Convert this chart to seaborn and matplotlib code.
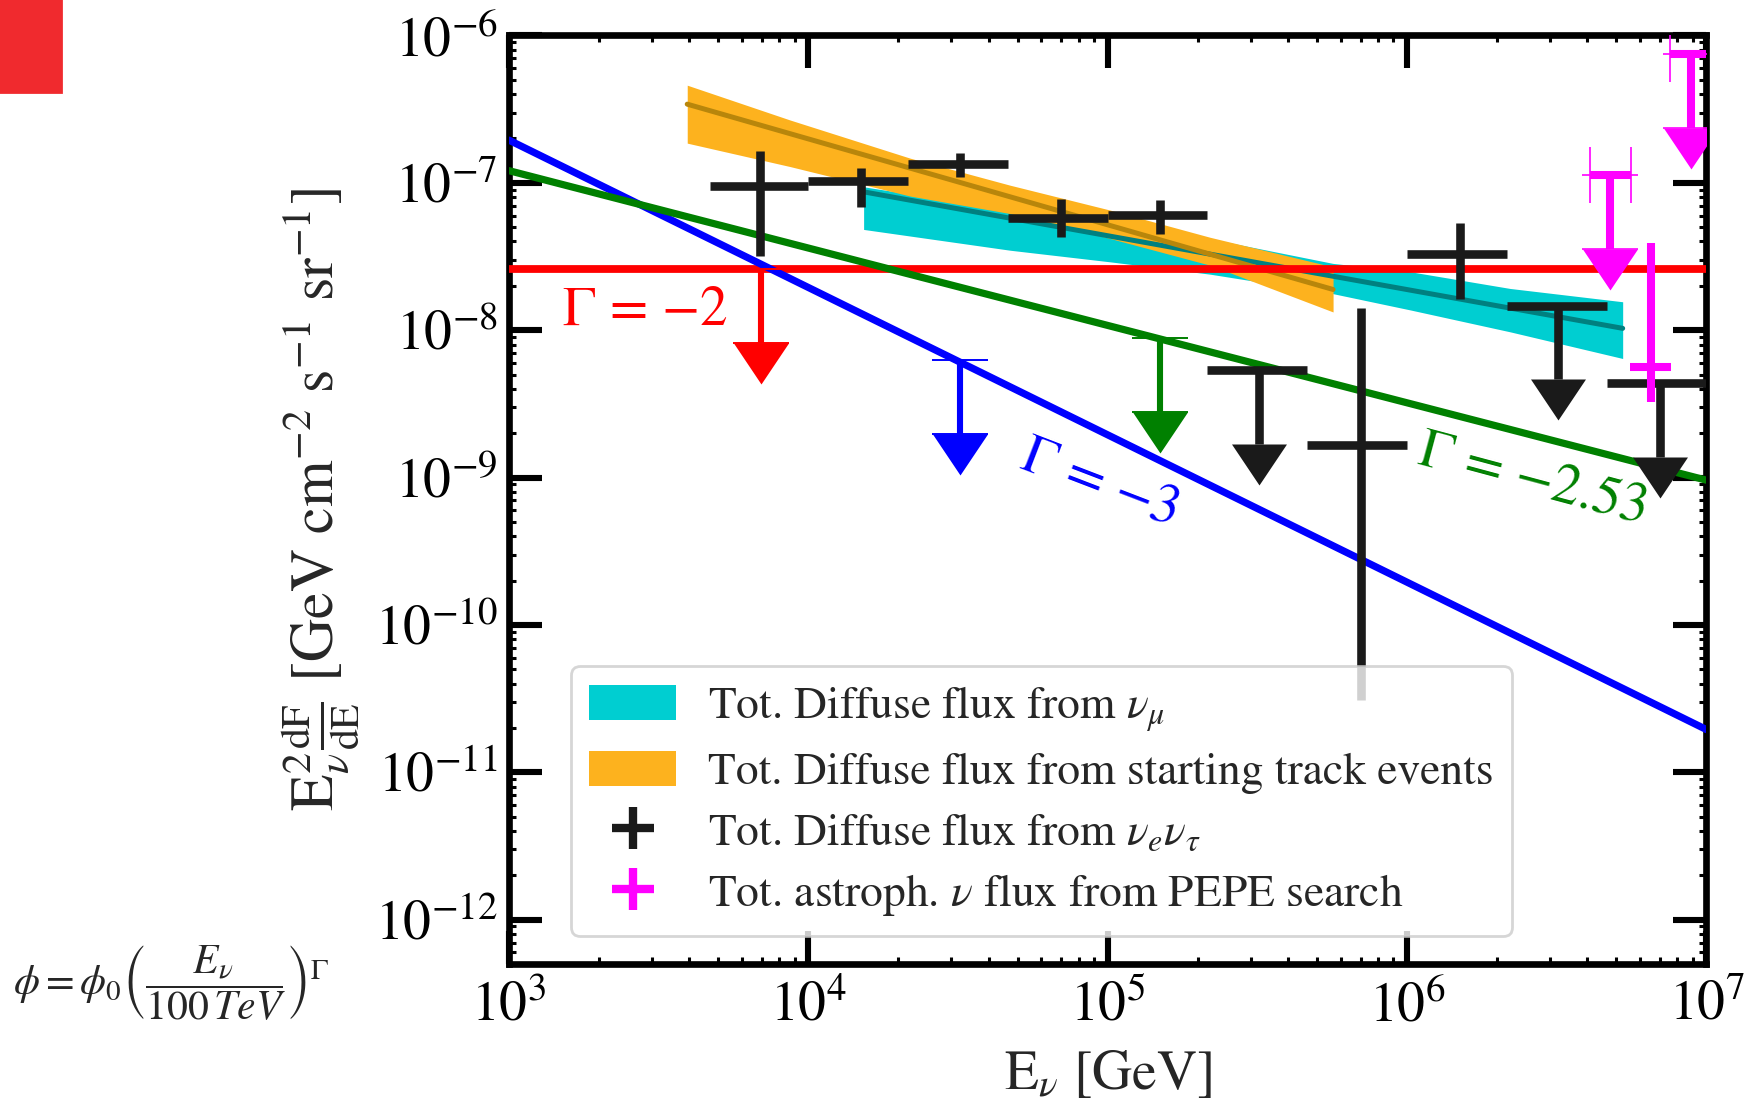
import numpy as np
import matplotlib
matplotlib.use("Agg")
import matplotlib.pyplot as plt
import seaborn as sns
from matplotlib.path import Path
from matplotlib.patches import Patch, Rectangle
from matplotlib.lines import Line2D
from matplotlib.ticker import LogLocator, NullFormatter

nan = np.nan
# ---------------- data ----------------
# power-law guide lines: E^2 dF/dE at E = 1e3 and 1e7 GeV
line_E = [1e3, 1e7]
line_g2 = [2.60e-8, 2.60e-8]      # Gamma = -2
line_g3 = [1.95e-7, 1.95e-11]     # Gamma = -3
line_g253 = [1.21e-7, 9.6e-10]    # Gamma = -2.53
line_labels = [r"$\Gamma\,=\,{-}2$", r"$\mathit{\Gamma}\,=\,{-}3$", r"$\mathit{\Gamma}\,=\,{-}2.53$"]

# upper limits sitting on the guide lines (red, blue, green)
guide_ul_E = [6.95e3, 3.22e4, 1.50e5]
guide_ul_F = [2.60e-8, 6.25e-9, 8.8e-9]

# total diffuse flux from nu_mu : band + best fit
numu_E = [1.53e4, 4.72e4, 1.02e5, 2.20e5, 5.66e5, 1.03e6, 2.21e6, 5.25e6]
numu_hi = [9.40e-8, 6.61e-8, 5.25e-8, 4.17e-8, 2.84e-8, 2.49e-8, 1.92e-8, 1.56e-8]
numu_lo = [4.83e-8, 3.49e-8, 2.91e-8, 2.40e-8, 1.77e-8, 1.37e-8, 9.75e-9, 6.43e-9]
numu_fit_E = [1.53e4, 5.25e6]
numu_fit_F = [8.69e-8, 1.03e-8]

# total diffuse flux from starting track events : band + best fit
estes_E = [3.94e3, 8.69e3, 2.19e4, 4.72e4, 1.02e5, 2.20e5, 5.66e5]
estes_hi = [4.60e-7, 2.67e-7, 1.47e-7, 9.64e-8, 6.53e-8, 4.27e-8, 2.69e-8]
estes_lo = [1.86e-7, 1.29e-7, 8.13e-8, 6.19e-8, 4.19e-8, 2.76e-8, 1.33e-8]
estes_fit_E = [3.94e3, 5.66e5]
estes_fit_F = [3.42e-7, 1.89e-8]

# nu_e nu_tau binned flux
casc_E = [6.9e3, 1.5e4, 3.2e4, 7.0e4, 1.5e5, 3.2e5, 7.0e5, 1.5e6, 3.2e6, 7.0e6]
casc_Elo = [4.7e3, 1.0e4, 2.15e4, 4.64e4, 1.0e5, 2.15e5, 4.64e5, 1.0e6, 2.15e6, 4.64e6]
casc_Ehi = [1.0e4, 2.15e4, 4.64e4, 1.0e5, 2.15e5, 4.64e5, 1.0e6, 2.15e6, 4.64e6, 1.0e7]
casc_F = [9.55e-8, 1.03e-7, 1.34e-7, 5.78e-8, 6.04e-8, 5.35e-9, 1.66e-9, 3.28e-8, 1.47e-8, 4.38e-9]
casc_Fhi = [1.64e-7, 1.27e-7, 1.60e-7, 7.71e-8, 7.64e-8, nan, 1.42e-8, 5.38e-8, nan, nan]
casc_Flo = [3.19e-8, 6.87e-8, 1.10e-7, 4.30e-8, 4.53e-8, nan, 3.08e-11, 1.64e-8, nan, nan]
casc_ul = [False, False, False, False, False, True, False, False, True, True]

# PEPE search
pepe_E = [4.78e6, 6.53e6, 8.85e6]
pepe_Elo = [4.09e6, 5.57e6, 7.58e6]
pepe_Ehi = [5.60e6, 7.62e6, 1.03e7]
pepe_F = [1.13e-7, 5.64e-9, 7.48e-7]
pepe_Fhi = [nan, 3.92e-8, nan]
pepe_Flo = [nan, 3.26e-9, nan]
pepe_ul = [True, False, True]

legend_labels = [r"Tot. Diffuse flux from $\nu_\mu$",
                 "Tot. Diffuse flux from starting track events",
                 r"Tot. Diffuse flux from $\nu_e\nu_\tau$",
                 r"Tot. astroph. $\nu$ flux from PEPE search"]

# ---------------- style ----------------
sns.set_theme(style="ticks")
plt.rcParams.update({
    "font.family": ["STIXGeneral", "DejaVu Serif"],
    "mathtext.fontset": "stix",
    "axes.edgecolor": "black",
    "axes.linewidth": 2.4,
    "xtick.color": "black", "ytick.color": "black",
    "xtick.direction": "in", "ytick.direction": "in",
    "xtick.top": True, "ytick.right": True,
    "xtick.major.size": 12, "ytick.major.size": 12,
    "xtick.major.width": 2.2, "ytick.major.width": 2.2,
    "xtick.minor.size": 2.6, "ytick.minor.size": 2.6,
    "xtick.minor.width": 1.1, "ytick.minor.width": 1.1,
    "xtick.labelsize": 20, "ytick.labelsize": 20,
    "xtick.major.pad": 6, "ytick.major.pad": 4,
})

C_CYAN, C_TEAL = "#00CED1", "#008080"
C_ORANGE, C_BROWN = "#FDB21E", "#B8860B"
guide_colors = ["#FF0000", "#0000FF", "#008000"]
C_PEPE = "#FF00FF"
ARROW_DEC = 0.5           # arrow shaft length in decades
TRI = Path([(-27.5, 0), (27.5, 0), (0, -41), (-27.5, 0)],
           [Path.MOVETO, Path.LINETO, Path.LINETO, Path.CLOSEPOLY])
TRI_MS = 29.5

fig = plt.figure(figsize=(8.76, 5.545), dpi=200)
ax = fig.add_axes([0.2905, 0.1307, 0.6835, 0.8373])
ax.set_xscale("log")
ax.set_yscale("log")

# bands
ax.fill_between(numu_E, numu_lo, numu_hi, color=C_CYAN, lw=0, zorder=1)
ax.fill_between(estes_E, estes_lo, estes_hi, color=C_ORANGE, lw=0, zorder=1.1)
sns.lineplot(x=numu_fit_E, y=numu_fit_F, color=C_TEAL, lw=1.8, ax=ax, zorder=2)
sns.lineplot(x=estes_fit_E, y=estes_fit_F, color=C_BROWN, lw=1.8, ax=ax, zorder=2)

# guide lines
for ys, c, lw in zip([line_g2, line_g3, line_g253], guide_colors, [2.8, 2.6, 2.6]):
    sns.lineplot(x=line_E, y=ys, color=c, lw=lw, ax=ax, zorder=3)

def draw_arrow_heads(E, F, color, z):
    F = np.asarray(F, float)
    ax.plot(E, F * 10 ** (-ARROW_DEC), ls="none", marker=TRI, ms=TRI_MS,
            mew=0, color=color, zorder=z)

# guide-line upper limits
for E, F, c in zip(guide_ul_E, guide_ul_F, guide_colors):
    end = F * 10 ** (-ARROW_DEC)
    ax.errorbar([E], [F], yerr=[[F - end], [0]], fmt="none", ecolor=c,
                elinewidth=2.2, capsize=10, capthick=0.7, zorder=4)
    draw_arrow_heads([E], [F], c, 4)

# nu_e nu_tau
cE, cF = np.array(casc_E), np.array(casc_F)
cElo, cEhi = np.array(casc_Elo), np.array(casc_Ehi)
cFlo, cFhi = np.array(casc_Flo), np.array(casc_Fhi)
ul = np.array(casc_ul)
m = ~ul
ax.errorbar(cE[m], cF[m], xerr=[cE[m] - cElo[m], cEhi[m] - cE[m]],
            yerr=[cF[m] - cFlo[m], cFhi[m] - cF[m]], fmt="none", ecolor="k",
            elinewidth=3.1, capsize=0, zorder=5)
ax.errorbar(cE[ul], cF[ul], xerr=[cE[ul] - cElo[ul], cEhi[ul] - cE[ul]],
            yerr=[cF[ul] * (1 - 10 ** (-ARROW_DEC)), np.zeros(ul.sum())],
            fmt="none", ecolor="k", elinewidth=3.1, capsize=0, zorder=5)
draw_arrow_heads(cE[ul], cF[ul], "k", 5)

# PEPE
pE, pF = np.array(pepe_E), np.array(pepe_F)
pElo, pEhi = np.array(pepe_Elo), np.array(pepe_Ehi)
pFlo, pFhi = np.array(pepe_Flo), np.array(pepe_Fhi)
pul = np.array(pepe_ul)
pm = ~pul
ax.errorbar(pE[pm], pF[pm], xerr=[pE[pm] - pElo[pm], pEhi[pm] - pE[pm]],
            yerr=[pF[pm] - pFlo[pm], pFhi[pm] - pF[pm]], fmt="none",
            ecolor=C_PEPE, elinewidth=2.9, capsize=0, zorder=5)
ax.errorbar(pE[pul], pF[pul], xerr=[pE[pul] - pElo[pul], pEhi[pul] - pE[pul]],
            yerr=[pF[pul] * (1 - 10 ** (-ARROW_DEC)), np.zeros(pul.sum())],
            fmt="none", ecolor=C_PEPE, elinewidth=2.9, capsize=10, capthick=0.6,
            zorder=5)
draw_arrow_heads(pE[pul], pF[pul], C_PEPE, 5)

# guide labels
ax.text(1.5e3, 1.35e-8, line_labels[0], color=guide_colors[0], fontsize=20,
        ha="left", va="center", zorder=6)
ax.text(9.4e4, 9.15e-10, line_labels[1], color=guide_colors[1], fontsize=20,
        ha="center", va="center", rotation=-21, rotation_mode="anchor", zorder=6)
ax.text(2.6e6, 9.6e-10, line_labels[2], color=guide_colors[2], fontsize=20,
        ha="center", va="center", rotation=-15, rotation_mode="anchor", zorder=6)

ax.set_xlim(1e3, 1e7)
ax.set_ylim(5e-13, 1e-6)
for axis in (ax.xaxis, ax.yaxis):
    axis.set_major_locator(LogLocator(base=10, numticks=30))
    axis.set_minor_locator(LogLocator(base=10, subs=np.arange(2, 10), numticks=30))
    axis.set_minor_formatter(NullFormatter())
for s in ax.spines.values():
    s.set_linewidth(2.4)

ax.set_xlabel(r"$\mathrm{E}_\nu$ [GeV]", fontsize=20, labelpad=6)
ax.set_ylabel(r"$\mathrm{E}_\nu^2\frac{\mathrm{dF}}{\mathrm{dE}}$ [GeV cm$^{-2}$ s$^{-1}$ sr$^{-1}$]",
              fontsize=21.5, labelpad=5)

handles = [Patch(color=C_CYAN, lw=0), Patch(color=C_ORANGE, lw=0),
           Line2D([], [], ls="none", marker="+", ms=15, mew=3, color="k"),
           Line2D([], [], ls="none", marker="+", ms=15, mew=3, color=C_PEPE)]
leg = ax.legend(handles, legend_labels, loc="lower left",
                bbox_to_anchor=(0.052, 0.03), borderaxespad=0, fontsize=16.4,
                handlelength=1.9, handleheight=0.8, labelspacing=0.38,
                handletextpad=0.7, borderpad=0.4, frameon=True, framealpha=0.8,
                edgecolor="0.8", fancybox=True)
leg.set_zorder(10)

fig.text(0.0074, 0.1136,
         r"$\phi = \phi_0\left(\dfrac{E_\nu}{100\,TeV}\right)^{\Gamma}$",
         fontsize=15, ha="left", va="center")
fig.patches.append(Rectangle((0, 1 - 92 / 1109), 61 / 1752, 92 / 1109,
                             transform=fig.transFigure, color="#F02A2E", zorder=0))

fig.savefig("out.png", dpi=200)
